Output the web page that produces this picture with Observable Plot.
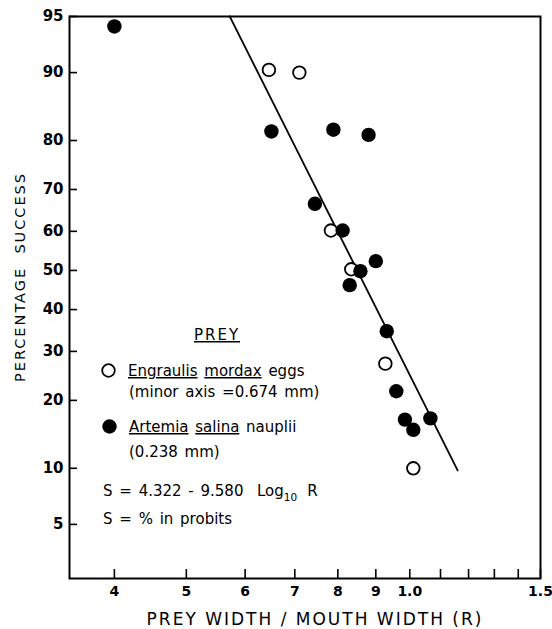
<!DOCTYPE html>
<html>
<head>
<meta charset="utf-8">
<script src="https://cdn.jsdelivr.net/npm/d3@7"></script>
<script src="https://cdn.jsdelivr.net/npm/@observablehq/plot@0.6"></script>
<style>
  html, body { margin: 0; padding: 0; background: #fff; }
  #chart { width: 552px; height: 629px; }
</style>
</head>
<body>
<div id="chart"></div>
<script>
// ---- Data ----
// Engraulis mordax eggs (open circles): R = prey width / mouth width, % success
const eggR   = [0.646, 0.710, 0.783, 0.834, 0.927, 1.011];
const eggPct = [90.3, 90.0, 60.2, 50.3, 27.3, 10.0];
// Artemia salina nauplii (filled circles)
const naupR   = [0.400, 0.651, 0.789, 0.880, 0.745, 0.812, 0.900, 0.858, 0.830, 0.931, 0.959, 0.985, 1.011, 1.066];
const naupPct = [94.3, 81.6, 81.9, 81.0, 66.7, 60.2, 52.4, 49.8, 46.2, 34.7, 21.7, 16.7, 15.1, 16.9];
// Fitted probit line: S = 4.322 - 9.580 log10 R
const fitA = 4.322;
const fitB = -9.580;
const fitR = [0.572, 1.16];
// Axis ticks
const xTicks = [0.4, 0.5, 0.6, 0.7, 0.8, 0.9, 1.0, 1.1, 1.2, 1.3, 1.4, 1.5];
const xTickLabels = ["4", "5", "6", "7", "8", "9", "1.0", "", "", "", "", "1.5"];
const yTicks = [5, 10, 20, 30, 40, 50, 60, 70, 80, 90, 95];
const xDomain = [0.348, 1.5];
const yDomainPct = [2.3, 95];

// ---- probit helper (inverse normal CDF, Acklam) ----
function invNorm(p) {
  const a = [-3.969683028665376e+01, 2.209460984245205e+02, -2.759285104469687e+02, 1.383577518672690e+02, -3.066479806614716e+01, 2.506628277459239e+00];
  const b = [-5.447609879822406e+01, 1.615858368580409e+02, -1.556989798598866e+02, 6.680131188771972e+01, -1.328068155288572e+01];
  const c = [-7.784894002430293e-03, -3.223964580411365e-01, -2.400758277161838e+00, -2.549732539343734e+00, 4.374664141464968e+00, 2.938163982698783e+00];
  const d = [7.784695709041462e-03, 3.224671290700398e-01, 2.445134137142996e+00, 3.754408661907416e+00];
  const pl = 0.02425, ph = 1 - pl;
  let q, r;
  if (p < pl) {
    q = Math.sqrt(-2 * Math.log(p));
    return (((((c[0]*q+c[1])*q+c[2])*q+c[3])*q+c[4])*q+c[5]) / ((((d[0]*q+d[1])*q+d[2])*q+d[3])*q+1);
  }
  if (p <= ph) {
    q = p - 0.5; r = q * q;
    return (((((a[0]*r+a[1])*r+a[2])*r+a[3])*r+a[4])*r+a[5])*q / (((((b[0]*r+b[1])*r+b[2])*r+b[3])*r+b[4])*r+1);
  }
  q = Math.sqrt(-2 * Math.log(1 - p));
  return -(((((c[0]*q+c[1])*q+c[2])*q+c[3])*q+c[4])*q+c[5]) / ((((d[0]*q+d[1])*q+d[2])*q+d[3])*q+1);
}
const probit = pct => 5 + invNorm(pct / 100);

const eggs = eggR.map((r, i) => ({r, s: probit(eggPct[i])}));
const naup = naupR.map((r, i) => ({r, s: probit(naupPct[i])}));
const fit = fitR.map(r => ({r, s: fitA + fitB * Math.log10(r)}));
const yTickVals = yTicks.map(probit);

const W = 552, H = 629;
const mL = 69, mR = 12, mT = 16, mB = 51;
const frameW = W - mL - mR, frameH = H - mT - mB;

const svg = Plot.plot({
  width: W, height: H,
  marginLeft: mL, marginRight: mR, marginTop: mT, marginBottom: mB,
  style: {fontFamily: "DejaVu Sans", fontSize: "14px", background: "#fff", color: "#000"},
  x: {type: "log", domain: xDomain},
  y: {type: "linear", domain: yDomainPct.map(probit)},
  marks: [
    Plot.line(fit, {x: "r", y: "s", stroke: "#000", strokeWidth: 1.8}),
    // inward ticks
    Plot.tickX(xTicks, {x: d => d, stroke: "#000", strokeWidth: 1.6, insetTop: frameH - 9}),
    Plot.tickY(yTickVals, {y: d => d, stroke: "#000", strokeWidth: 1.6, insetRight: frameW - 8}),
    Plot.axisX({ticks: xTicks, tickSize: 0, tickPadding: 8, label: null,
      tickFormat: d => xTickLabels[xTicks.indexOf(d)], fontWeight: "bold", fontSize: 14}),
    Plot.axisY({ticks: yTickVals, tickSize: 0, tickPadding: 6, label: null,
      tickFormat: d => String(yTicks[yTickVals.indexOf(d)]), fontWeight: "bold", fontSize: 15}),
    Plot.frame({stroke: "#000", strokeWidth: 2}),
    Plot.dot(eggs, {x: "r", y: "s", r: 6.3, fill: "#fff", stroke: "#000", strokeWidth: 1.8}),
    Plot.dot(naup, {x: "r", y: "s", r: 7.2, fill: "#000", stroke: "none"})
  ]
});
document.getElementById("chart").appendChild(svg);

// ---- Annotations: axis titles and in-plot legend ----
const s = d3.select(svg);
const ann = s.append("g")
  .attr("font-family", "DejaVu Sans")
  .attr("fill", "#000")
  .attr("font-weight", "normal")
  .attr("text-anchor", "start");

ann.append("text")
  .attr("x", 315).attr("y", 625)
  .attr("text-anchor", "middle").attr("font-size", 17)
  .style("letter-spacing", "2px")
  .text("PREY WIDTH / MOUTH WIDTH (R)");

ann.append("text")
  .attr("transform", "translate(25,277) rotate(-90)")
  .attr("text-anchor", "middle").attr("font-size", 14.5)
  .attr("fill", "#000")
  .style("letter-spacing", "2px")
  .text("PERCENTAGE  SUCCESS");

const leg = ann.append("g").attr("font-size", 15).attr("text-anchor", "start")
  .style("word-spacing", "2px");
leg.append("text").attr("x", 217).attr("y", 340).attr("text-anchor", "middle")
  .style("letter-spacing", "2px")
  .style("text-decoration", "underline").text("PREY");

leg.append("circle").attr("cx", 108.5).attr("cy", 370.5).attr("r", 6.3)
  .attr("fill", "#fff").attr("stroke", "#000").attr("stroke-width", 1.8);
const t1 = leg.append("text").attr("x", 128).attr("y", 376);
t1.append("tspan").style("text-decoration", "underline").text("Engraulis");
t1.append("tspan").text(" ");
t1.append("tspan").style("text-decoration", "underline").text("mordax");
t1.append("tspan").text(" eggs");
leg.append("text").attr("x", 129).attr("y", 397).text("(minor axis =0.674 mm)");

leg.append("circle").attr("cx", 109.5).attr("cy", 426.5).attr("r", 7.2).attr("fill", "#000");
const t2 = leg.append("text").attr("x", 129).attr("y", 432);
t2.append("tspan").style("text-decoration", "underline").text("Artemia");
t2.append("tspan").text(" ");
t2.append("tspan").style("text-decoration", "underline").text("salina");
t2.append("tspan").text(" nauplii");
leg.append("text").attr("x", 129).attr("y", 457).text("(0.238 mm)");

const eq = leg.append("text").attr("x", 103).attr("y", 496);
eq.append("tspan").text("S = 4.322 - 9.580  Log");
eq.append("tspan").attr("font-size", 10.5).attr("dy", 5).text("10");
eq.append("tspan").attr("dy", -5).attr("dx", 10).text("R");
leg.append("text").attr("x", 103).attr("y", 524).text("S = % in probits");
</script>
</body>
</html>
